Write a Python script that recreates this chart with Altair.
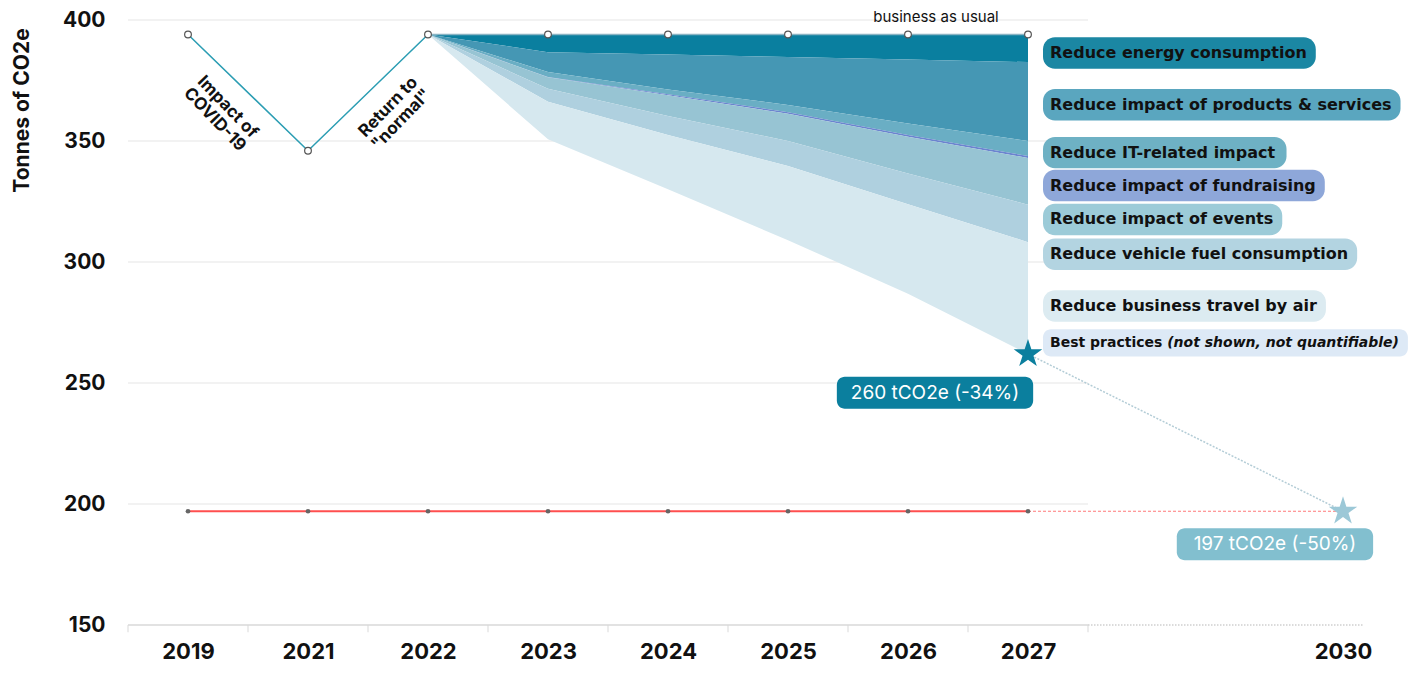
import altair as alt
import pandas as pd

# ---------------- data ----------------
years = ["2019", "2021", "2022", "2023", "2024", "2025", "2026", "2027", "2030"]
year_pos = [0, 1, 2, 3, 4, 5, 6, 7, 9.625]

hist_pos = [0, 1, 2]
hist_vals = [394, 346, 394]

proj_pos = [2, 3, 4, 5, 6, 7]
bau = [394, 394, 394, 394, 394, 394]
after_energy = [394, 386.7, 385.7, 384.7, 383.7, 382.6]
after_products = [394, 378.5, 371.3, 364.9, 357.2, 350.0]
after_it = [394, 376.4, 369.3, 361.9, 352.5, 343.8]
after_fundraising = [394, 376.3, 368.9, 361.3, 351.8, 343.0]
after_events = [394, 371.6, 360.3, 350.0, 336.6, 323.7]
after_vehicle = [394, 366.2, 352.5, 339.7, 323.9, 308.2]
after_air = [394, 350.7, 330.1, 309.0, 286.9, 262.0]

target_pos = [0, 1, 2, 3, 4, 5, 6, 7]
target_vals = [197, 197, 197, 197, 197, 197, 197, 197]
target_2030 = 197
result_2027 = 262

measures = [
    "Reduce energy consumption",
    "Reduce impact of products & services",
    "Reduce IT-related impact",
    "Reduce impact of fundraising",
    "Reduce impact of events",
    "Reduce vehicle fuel consumption",
    "Reduce business travel by air",
]
area_colors = ["#0a7f9f", "#4597b4", "#6aaec4", "#6b84cf", "#97c4d3", "#afd0df", "#d6e8ef"]
box_colors = ["#1b87a3", "#5aa6bf", "#6eb1c4", "#8ea7d9", "#9ccbd8", "#b3d4e1", "#dcebf1"]
label_y = [386.4, 365.0, 345.2, 331.6, 317.6, 303.2, 281.8]

best_main = "Best practices "
best_italic = "(not shown, not quantifiable)"
best_y = 266.6

result_label = "260 tCO2e (-34%)"
result_label_pos = (6.225, 246.0)
target_label = "197 tCO2e (-50%)"
target_label_pos = (9.058, 183.4)

bau_label = "business as usual"
bau_label_pos = (6.233, 401.2)

covid_label = "Impact of\nCOVID-19"
covid_pos = (0.33, 364.0)
normal_label = 'Return to\n"normal"'
normal_pos = (1.67, 364.0)

y_ticks = [150, 200, 250, 300, 350, 400]
y_title = "Tonnes of CO2e"

# --------------- helpers ---------------
DJ = {" ": .348, "&": .872, "(": .457, ")": .457, ",": .380, "-": .415, "I": .372,
      "R": .770, "B": .762, "T": .682, "a": .675, "b": .716, "c": .593, "d": .716,
      "e": .678, "f": .435, "g": .716, "h": .712, "i": .343, "l": .343, "m": 1.042,
      "n": .712, "o": .687, "p": .716, "q": .716, "r": .493, "s": .595, "t": .478,
      "u": .712, "v": .652, "y": .652, "k": .665, "z": .582, "w": .924}


def tw(s, size):
    return sum(DJ.get(c, 0.68) for c in s) * size


STAR = ("M0,-1L0.2245,-0.309L0.9511,-0.309L0.3633,0.118L0.5878,0.809L0,0.382"
        "L-0.5878,0.809L-0.3633,0.118L-0.9511,-0.309L-0.2245,-0.309Z")

PX = 120.0  # pixels per x unit
XMIN, XMAX = -0.5, 9.8
xs = alt.Scale(domain=[XMIN, XMAX], nice=False, zero=False)
ys = alt.Scale(domain=[150, 400], nice=False, zero=False)
LABEL_FONT = "DejaVu Sans"
FONT = "Inter"

label_expr = " : ".join([f"datum.value == {p} ? '{y}'" for p, y in zip(year_pos, years)]) + " : ''"
X_AX = alt.Axis(values=year_pos, labelExpr=label_expr, ticks=False, domain=False,
                grid=False, labelFontSize=22, labelFontWeight="bold",
                labelFont=FONT, labelColor="#111", labelPadding=16, title=None,
                labelFlush=False)
Y_AX = alt.Axis(values=y_ticks, ticks=False, domain=False, grid=False,
                labelFontSize=21, labelFontWeight="bold", labelFont=FONT,
                labelColor="#111", labelPadding=23,
                title=y_title, titleFontSize=21, titleFontWeight="bold",
                titleFont=FONT, titleColor="#111", titleX=-106, titleY=90,
                titleAngle=270, titleAlign="center", titleBaseline="middle")


def X(f="pos"):
    return alt.X(f"{f}:Q", scale=xs, axis=X_AX)


def Y(f="v"):
    return alt.Y(f"{f}:Q", scale=ys, axis=Y_AX)


# --------------- frames ---------------
bounds = [bau, after_energy, after_products, after_it, after_fundraising,
          after_events, after_vehicle, after_air]
area_rows = []
for i, m in enumerate(measures):
    for j, p in enumerate(proj_pos):
        area_rows.append({"pos": p, "top": bounds[i][j], "bottom": bounds[i + 1][j], "measure": m})
area_df = pd.DataFrame(area_rows)

n_main = len(years) - 1
grid_df = pd.DataFrame({"y": y_ticks[1:], "x": XMIN, "x2": n_main - 0.5})
base_df = pd.DataFrame({"y": [y_ticks[0]], "x": [XMIN], "x2": [n_main - 0.5]})
ext_df = pd.DataFrame({"y": [y_ticks[0]], "x": [n_main - 0.5], "x2": [XMAX]})
tick_df = pd.DataFrame({"x": [i - 0.5 for i in range(n_main + 1)], "y": 150, "y2": 147})

hist_df = pd.DataFrame({"pos": hist_pos, "v": hist_vals})
bau_df = pd.DataFrame({"pos": proj_pos, "v": bau})
circ_df = pd.DataFrame({"pos": hist_pos + proj_pos[1:], "v": hist_vals + bau[1:]})
target_df = pd.DataFrame({"pos": target_pos, "v": target_vals})
target_ext_df = pd.DataFrame({"pos": [target_pos[-1], year_pos[-1]], "v": [target_vals[-1], target_2030]})
proj_line_df = pd.DataFrame({"pos": [7, year_pos[-1]], "v": [result_2027, target_2030]})
star1_df = pd.DataFrame({"pos": [7], "v": [result_2027]})
star2_df = pd.DataFrame({"pos": [year_pos[-1]], "v": [target_2030]})

LBL_X = 7.125
LBL_SIZE = 16
box_df = pd.DataFrame({
    "measure": measures,
    "x": LBL_X,
    "x2": [LBL_X + (tw(m, LBL_SIZE) + 16) / PX for m in measures],
    "y": [v + 6.5 for v in label_y],
    "y2": [v - 6.5 for v in label_y],
    "ty": label_y,
    "tx": LBL_X + 7 / PX,
    "bc": box_colors,
})
BEST_SIZE = 14
best_w = tw(best_main + best_italic, BEST_SIZE) + 16
best_box_df = pd.DataFrame({"x": [LBL_X], "x2": [LBL_X + best_w / PX],
                            "y": [best_y + 5.6], "y2": [best_y - 5.6]})
best_t1 = pd.DataFrame({"x": [LBL_X + 7 / PX], "y": [best_y], "t": [best_main]})
best_t2 = pd.DataFrame({"x": [LBL_X + (7 + tw(best_main, BEST_SIZE)) / PX], "y": [best_y], "t": [best_italic]})


def vbox(label, pos):
    w = (0.58 * 19 * len(label) + 20) / PX
    return pd.DataFrame({"x": [pos[0] - w / 2], "x2": [pos[0] + w / 2],
                         "y": [pos[1] + 6.6], "y2": [pos[1] - 6.6],
                         "cx": [pos[0]], "cy": [pos[1]], "t": [label]})


res_df = vbox(result_label, result_label_pos)
tgt_df = vbox(target_label, target_label_pos)

# --------------- layers ---------------
grid = alt.Chart(grid_df).mark_rule(color="#eeeeee", strokeWidth=1.5).encode(
    x=X("x"), x2="x2:Q", y=Y("y"))
base = alt.Chart(base_df).mark_rule(color="#d9d9d9", strokeWidth=1.5).encode(
    x=X("x"), x2="x2:Q", y=Y("y"))
ext = alt.Chart(ext_df).mark_rule(color="#d0d0d0", strokeWidth=1.5, strokeDash=[1.5, 1.5]).encode(
    x=X("x"), x2="x2:Q", y=Y("y"))
ticks = alt.Chart(tick_df).mark_rule(color="#d9d9d9", strokeWidth=1).encode(
    x=X("x"), y=Y("y"), y2="y2:Q")

areas = alt.Chart(area_df).mark_area(opacity=1).encode(
    x=X(), y=Y("top"), y2="bottom:Q",
    color=alt.Color("measure:N", scale=alt.Scale(domain=measures, range=area_colors), legend=None),
    detail="measure:N",
)

hist_line = alt.Chart(hist_df).mark_line(color="#2b9db3", strokeWidth=1.5).encode(x=X(), y=Y())
bau_line = alt.Chart(bau_df).mark_line(color="#8ab4c4", strokeWidth=1.5).encode(x=X(), y=Y())
circles = alt.Chart(circ_df).mark_point(shape="circle", filled=True, fill="white", stroke="#555",
                                        strokeWidth=1.2, size=45, opacity=1).encode(x=X(), y=Y())

target_line = alt.Chart(target_df).mark_line(color="#ff4f4f", strokeWidth=2).encode(x=X(), y=Y())
target_ext = alt.Chart(target_ext_df).mark_line(color="#ff7a7a", strokeWidth=1, strokeDash=[3, 2]).encode(x=X(), y=Y())
target_dots = alt.Chart(target_df).mark_point(shape="circle", filled=True, color="#666", size=22, opacity=1).encode(x=X(), y=Y())

proj_line = alt.Chart(proj_line_df).mark_line(color="#b3ccd6", strokeWidth=1.5, strokeDash=[2, 1.5]).encode(x=X(), y=Y())
star1 = alt.Chart(star1_df).mark_point(shape=STAR, filled=True, color="#0b7f9e", size=900, opacity=1).encode(x=X(), y=Y())
star2 = alt.Chart(star2_df).mark_point(shape=STAR, filled=True, color="#9cc8d7", size=900, opacity=1).encode(x=X(), y=Y())

boxes = alt.Chart(box_df).mark_rect(cornerRadius=12).encode(
    x=X("x"), x2="x2:Q", y=Y("y"), y2="y2:Q",
    fill=alt.Fill("bc:N", scale=None),
)
box_text = alt.Chart(box_df).mark_text(align="left", baseline="middle", font=LABEL_FONT, fontSize=LBL_SIZE,
                                       fontWeight="bold", color="#111").encode(
    x=X("tx"), y=Y("ty"), text="measure:N")

best_box = alt.Chart(best_box_df).mark_rect(cornerRadius=8, color="#dde9f6").encode(
    x=X("x"), x2="x2:Q", y=Y("y"), y2="y2:Q")
best_text1 = alt.Chart(best_t1).mark_text(align="left", baseline="middle", font=LABEL_FONT, fontSize=BEST_SIZE,
                                          fontWeight="bold", color="#111").encode(
    x=X("x"), y=Y("y"), text="t:N")
best_text2 = alt.Chart(best_t2).mark_text(align="left", baseline="middle", font=LABEL_FONT, fontSize=BEST_SIZE,
                                          fontWeight="bold", fontStyle="italic", color="#111").encode(
    x=X("x"), y=Y("y"), text="t:N")


def value_label(df, color):
    b = alt.Chart(df).mark_rect(cornerRadius=8, color=color).encode(
        x=X("x"), x2="x2:Q", y=Y("y"), y2="y2:Q")
    t = alt.Chart(df).mark_text(align="center", baseline="middle", font=FONT, fontSize=19,
                                color="white").encode(
        x=X("cx"), y=Y("cy"), text="t:N")
    return [b, t]


res_lbl = value_label(res_df, "#0b7f9e")
tgt_lbl = value_label(tgt_df, "#82bfcf")

bau_txt = alt.Chart(pd.DataFrame({"x": [bau_label_pos[0]], "y": [bau_label_pos[1]], "t": [bau_label]})).mark_text(
    align="center", baseline="middle", font=FONT, fontSize=15, color="#111").encode(
    x=X("x"), y=Y("y"), text="t:N")

covid_txt = alt.Chart(pd.DataFrame({"x": [covid_pos[0]], "y": [covid_pos[1]], "t": [covid_label]})).mark_text(
    align="center", baseline="middle", font=FONT, fontSize=17, fontWeight="bold", color="#111",
    angle=46, lineBreak="\n", lineHeight=18).encode(
    x=X("x"), y=Y("y"), text="t:N")
normal_txt = alt.Chart(pd.DataFrame({"x": [normal_pos[0]], "y": [normal_pos[1]], "t": [normal_label]})).mark_text(
    align="center", baseline="middle", font=FONT, fontSize=17, fontWeight="bold", color="#111",
    angle=314, lineBreak="\n", lineHeight=18).encode(
    x=X("x"), y=Y("y"), text="t:N")

chart = alt.layer(
    grid, base, ext, ticks, areas, target_ext, target_line, target_dots,
    proj_line, hist_line, bau_line, circles, star1, star2,
    boxes, box_text, best_box, best_text1, best_text2, *res_lbl, *tgt_lbl,
    bau_txt, covid_txt, normal_txt,
).properties(
    width=1236, height=605,
    padding={"left": 120, "top": 12, "right": 47, "bottom": 40},
    autosize=alt.AutoSizeParams(type="none"),
    background="white",
).configure_view(stroke=None)

chart.save("out.html", embed_options={"renderer": "svg", "actions": False})
